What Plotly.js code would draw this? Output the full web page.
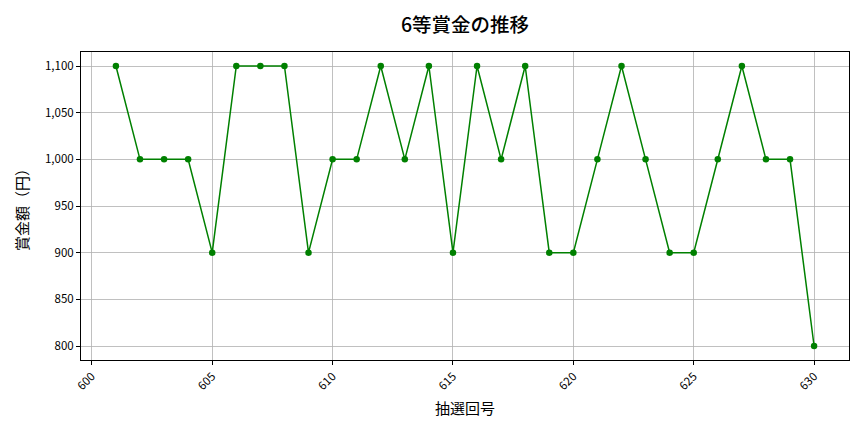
<!DOCTYPE html>
<html>
<head>
<meta charset="utf-8">
<script src="https://cdn.plot.ly/plotly-3.0.1.min.js"></script>
<style>html,body{margin:0;padding:0;background:#fff;}#chart{width:864px;height:432px;}</style>
</head>
<body>
<div id="chart"></div>
<script>
const drawNumbers = [601,602,603,604,605,606,607,608,609,610,611,612,613,614,615,616,617,618,619,620,621,622,623,624,625,626,627,628,629,630];
const prizeYen = [1100,1000,1000,1000,900,1100,1100,1100,900,1000,1000,1100,1000,1100,900,1100,1000,1100,900,900,1000,1100,1000,900,900,1000,1100,1000,1000,800];
const xTicks = [600,605,610,615,620,625,630];
const yTicks = [800,850,900,950,1000,1050,1100];
const yTickLabels = ['800','850','900','950','1,000','1,050','1,100'];

const font = '"Noto Sans CJK JP", "DejaVu Sans", sans-serif';
const titleFont = '"Noto Sans CJK JP Medium", "Noto Sans CJK JP", sans-serif';
Plotly.newPlot('chart', [{
  x: drawNumbers, y: prizeYen, type: 'scatter', mode: 'lines+markers',
  line: {color: 'green', width: 1.5},
  marker: {color: 'green', size: 6.5}
}], {
  width: 864, height: 432,
  paper_bgcolor: '#fff', plot_bgcolor: '#fff',
  margin: {l: 81, r: 15, t: 52, b: 72},
  showlegend: false,
  font: {family: font, color: '#000'},
  title: {text: '6等賞金の推移', xref: 'paper', x: 0.5, xanchor: 'center', yref: 'container', y: 0.942, yanchor: 'middle', font: {size: 19.5, family: titleFont, color: '#000', weight: 'bold'}},
  xaxis: {
    range: [599.55, 631.45], tickvals: xTicks, ticktext: xTicks.map(String),
    tickangle: -45, ticks: 'outside', ticklen: 4, tickcolor: '#000',
    showgrid: true, gridcolor: '#b0b0b0', gridwidth: 0.8,
    showline: true, linecolor: '#000', linewidth: 1, mirror: true, zeroline: false,
    tickfont: {size: 11.5, family: font},
    title: {text: '抽選回号', font: {size: 15, family: font}, standoff: 11}
  },
  yaxis: {
    range: [785, 1115], tickvals: yTicks, ticktext: yTickLabels,
    ticks: 'outside', ticklen: 4, tickcolor: '#000',
    showgrid: true, gridcolor: '#b0b0b0', gridwidth: 0.8,
    showline: true, linecolor: '#000', linewidth: 1, mirror: true, zeroline: false,
    tickfont: {size: 11.5, family: font},
    title: {text: '賞金額（円）', font: {size: 15, family: font}, standoff: 12}
  }
}, {staticPlot: true});
</script>
</body>
</html>
